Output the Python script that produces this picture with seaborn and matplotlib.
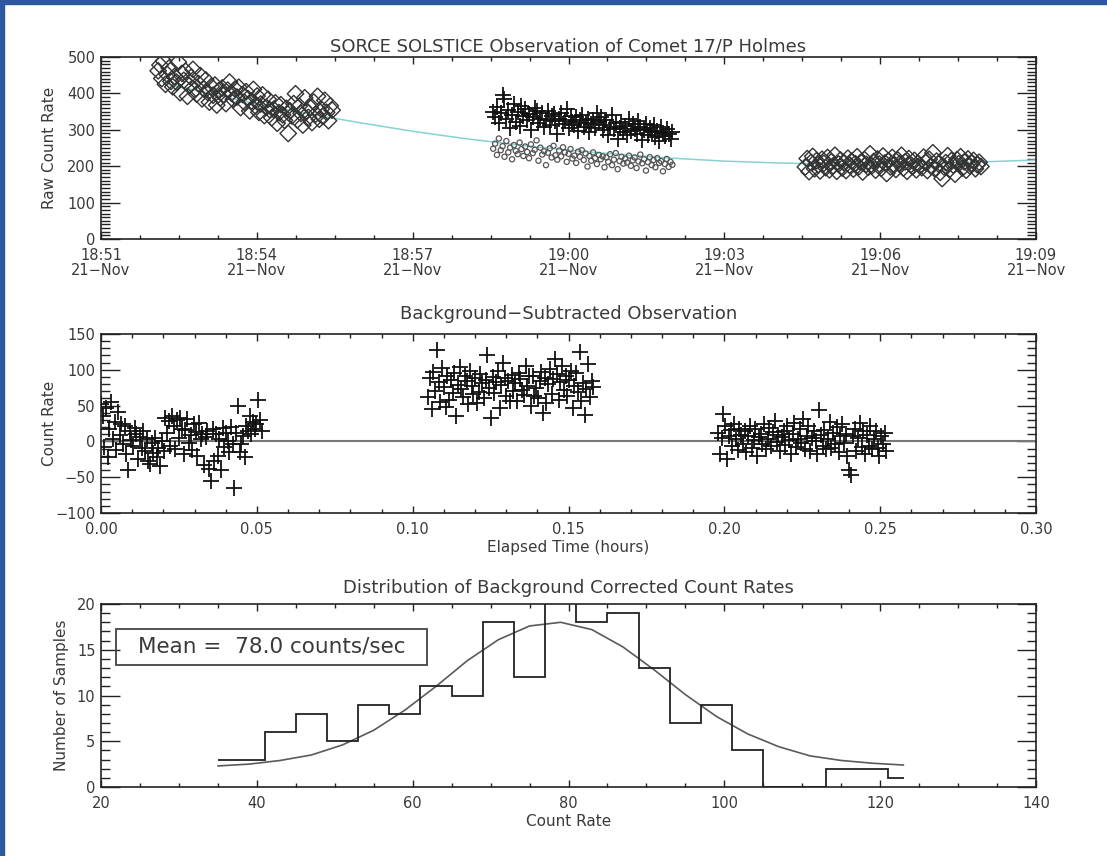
import numpy as np
import matplotlib
matplotlib.use("Agg")
import matplotlib.pyplot as plt
from matplotlib.ticker import MultipleLocator, FuncFormatter
from matplotlib.patches import Rectangle
import seaborn as sns

# ---------------- data ----------------
# Raw count rates (minutes after 18:51 UT, 21 Nov)
target1_span = (1.10, 4.45)
target1_rate = [462, 478, 441, 489, 425, 452, 470, 433, 418, 447, 431, 486, 402, 455, 436, 461,
                392, 421, 444, 466, 410, 398, 427, 449, 385, 412, 437, 403, 376, 419, 395, 423,
                368, 407, 388, 415, 396, 372, 409, 431, 401, 383, 412, 390, 417, 361, 397, 376,
                405, 386, 352, 379, 411, 366, 393, 348, 371, 396, 339, 362, 384, 355, 333, 356,
                374, 318, 347, 369, 341, 326, 359, 290, 352, 338, 372, 399, 327, 365, 345, 313,
                388, 352, 334, 361, 320, 376, 343, 392, 329, 357, 337, 381, 348, 325, 366, 354]

comet_span = (7.55, 11.00)
comet_rate = [348, 336, 362, 318, 347, 396, 385, 329, 355, 304, 341, 372, 322, 349, 311, 366,
              338, 357, 326, 344, 300, 335, 361, 352, 318, 331, 346, 309, 327, 352, 314, 337,
              343, 323, 289, 331, 345, 316, 328, 357, 306, 339, 321, 312, 334, 298, 326, 341,
              308, 319, 331, 293, 315, 327, 304, 345, 322, 336, 299, 314, 328, 287, 309, 342,
              301, 318, 276, 305, 321, 293, 311, 285, 330, 297, 316, 303, 289, 324, 308, 272,
              299, 317, 286, 305, 294, 312, 281, 298, 269, 307, 291, 283, 302, 288, 276, 295]
background_rate = [248, 262, 231, 276, 244, 255, 226, 269, 238, 251, 219, 258, 242, 233, 265, 247,
                   228, 254, 239, 222, 260, 236, 245, 271, 215, 251, 232, 241, 203, 237, 249, 224,
                   256, 230, 218, 243, 227, 252, 238, 212, 234, 247, 221, 229, 209, 240, 226, 244,
                   217, 235, 199, 228, 215, 238, 222, 206, 231, 219, 227, 197, 224, 212, 233, 203,
                   218, 236, 192, 214, 226, 207, 221, 210, 229, 201, 216, 224, 195, 213, 232, 208,
                   219, 188, 211, 225, 203, 217, 197, 222, 209, 214, 186, 206, 220, 198, 212, 204]

target3_span = (13.56, 16.94)
target3_rate = [198, 221, 185, 210, 227, 193, 215, 204, 187, 219, 208, 196, 224, 190, 212, 201,
                230, 186, 206, 217, 195, 209, 188, 222, 203, 214, 192, 207, 226, 199, 211, 184,
                218, 205, 197, 234, 201, 213, 189, 220, 206, 194, 228, 209, 180, 215, 198, 224,
                203, 191, 217, 207, 230, 195, 212, 186, 221, 204, 199, 216, 190, 208, 202, 196,
                225, 211, 188, 219, 200, 237, 193, 214, 206, 183, 166, 198, 210, 229, 191, 215,
                203, 178, 218, 207, 226, 195, 212, 189, 220, 201, 208, 216, 193, 204, 211, 199]

# Background trend fit
trend_minutes = [1.2, 2, 3, 4, 5, 6, 7, 8, 9, 10, 11, 12, 13, 14, 15, 16, 17, 18]
trend_rate = [428, 403, 371, 344, 319, 296, 276, 259, 244, 232, 222, 214, 209, 206, 206, 208, 212, 217]

# Background-subtracted rates (elapsed hours)
sub1_span = (0.000, 0.0515)
sub1_rate = [52, 36, -8, 47, -22, 18, 55, 4, 27, -12, 41, 9, 24, -3, 22,
             -18, -40, 14, 2, -7, 19, 11, -24, 6, -9, 15, -14, 3,
             -27, -31, -2, -16, 5, -22, -9, -35, 1, -13,
             33, 12, 29, -6, 35, 21, -10, 30, 5, 33, 18,
             -17, 16, 31, -2, 9, -12, 24, 13, -20, 26, 3,
             10, -33, 6, 14, -38, -55, 17, -28, 10, -21, 4, -40, 19, -8,
             12, 1, -15, 20, -4, -65, 12, 50, -15, -3, 8, -22,
             22, 14, 35, 11, 27, 18, 24, 58, 30, 15]
sub2_span = (0.105, 0.158)
sub2_rate = [62, 88, 45, 97, 71, 128, 83, 55, 102, 76, 48, 92,
             58, 86, 68, 95, 35, 79, 104, 73, 62, 91, 84, 52,
             99, 77, 66, 88, 54, 69, 94, 81, 60, 86, 120, 74,
             33, 90, 67, 83, 98, 46, 79, 110, 88, 63, 85, 57,
             93, 71, 82, 56, 96, 87, 72, 65, 105, 78, 91, 50,
             92, 64, 74, 61, 84, 97, 40, 89, 53, 80, 101, 66,
             87, 115, 94, 58, 83, 106, 72, 91, 64, 86, 99, 47,
             78, 95, 69, 125, 56, 81, 37, 73, 108, 62, 85, 76]
sub3_span = (0.198, 0.252)
sub3_rate = [12, -18, 5, 38, 21, -25, 8, 16, -6, 24, 3, -12,
             18, 9, -4, 14, -15, 7, 22, -9, 2, 17, -20, 6,
             11, -3, 25, -11, 4, 19, -7, 13, 28, -1, 9, -14,
             6, 15, -5, 21, 2, -17, 10, 26, -8, 3, 18, -2,
             31, -10, 8, 22, -13, 5, 14, 0, -18, 44, 9, -6,
             16, -11, 3, 27, -9, 12, -4, 20, -15, 7, 24, -2,
             11, -21, -40, -47, 8, 18, -13, 5, 26, -8, 14, -18,
             9, -6, 21, -11, 3, 15, -9, -20, 7, -4, 12, -14]

# Histogram of corrected comet rates
hist_edges = [35, 41, 45, 49, 53, 57, 61, 65, 69, 73, 77, 81, 85, 89, 93, 97, 101, 105, 109, 113, 117, 121, 123]
hist_counts = [3, 6, 8, 5, 9, 8, 11, 10, 18, 12, 21, 18, 19, 13, 7, 9, 4, 0, 0, 2, 2, 1]
gauss_x = [35, 39, 43, 47, 51, 55, 59, 63, 67, 71, 75, 79, 83, 87, 91, 95, 99, 103, 107, 111, 115, 119, 123]
gauss_y = [2.3, 2.5, 2.9, 3.5, 4.6, 6.2, 8.4, 11.0, 13.8, 16.1, 17.6, 18.0, 17.2, 15.3, 12.8, 10.1,
           7.7, 5.8, 4.4, 3.4, 2.9, 2.6, 2.4]
mean_rate = 78.0


def sample_times(span, values):
    return np.linspace(span[0], span[1], len(values))


# ---------------- style ----------------
sns.set_theme(style="white")
plt.rcParams["font.family"] = ["DejaVu Sans"]
plt.rcParams["axes.unicode_minus"] = True
TXT = "#3a3a3a"
INK = "#222222"

W, H = 1107, 856
fig = plt.figure(figsize=(W / 100, H / 100), dpi=100)
fig.patch.set_facecolor("white")

# window border
fig.patches.append(Rectangle((0, 1 - 4 / H), 1, 4 / H, transform=fig.transFigure,
                             color="#2d579e", zorder=10))
fig.patches.append(Rectangle((0, 0), 4 / W, 1, transform=fig.transFigure,
                             color="#2d579e", zorder=10))


def axes_px(l, t, r, b):
    return fig.add_axes([l / W, 1 - b / H, (r - l) / W, (b - t) / H])


def frame(ax, xlim, ylim, xmaj, xmin, ymaj, ymin):
    ax.set_xlim(*xlim)
    ax.set_ylim(*ylim)
    ax.xaxis.set_major_locator(MultipleLocator(xmaj))
    ax.xaxis.set_minor_locator(MultipleLocator(xmin))
    ax.yaxis.set_major_locator(MultipleLocator(ymaj))
    ax.yaxis.set_minor_locator(MultipleLocator(ymin))
    ax.tick_params(which="both", direction="in", top=True, right=True, bottom=True, left=True,
                   color=INK, labelcolor=TXT, labelsize=10.5, width=1)
    ax.tick_params(axis="y", which="major", length=13.5, pad=4)
    ax.tick_params(axis="y", which="minor", length=6.5)
    ax.tick_params(axis="x", which="major", length=5, pad=6.5)
    ax.tick_params(axis="x", which="minor", length=3)
    for s in ax.spines.values():
        s.set_color(INK)
        s.set_linewidth(1.2)
        s.set_visible(True)
    ax.grid(False)
    ax.set_facecolor("white")


# ---------------- top: raw count rate ----------------
ax1 = axes_px(101, 57, 1036, 239)
sns.lineplot(x=trend_minutes, y=trend_rate, color="#86d3d3", lw=1.1, ax=ax1,
             estimator=None, sort=False, zorder=1)
for span, vals in ((target1_span, target1_rate), (target3_span, target3_rate)):
    sns.scatterplot(x=sample_times(span, vals), y=vals, marker="D", s=70,
                    facecolor="none", edgecolor="#333333", linewidth=1.0, ax=ax1, zorder=3)
sns.scatterplot(x=sample_times(comet_span, comet_rate), y=comet_rate, marker="+", s=140,
                color="#111111", linewidth=1.3, ax=ax1, zorder=3)
sns.scatterplot(x=sample_times(comet_span, background_rate), y=background_rate, marker="o", s=14,
                facecolor="none", edgecolor="#555555", linewidth=0.9, ax=ax1, zorder=3)
frame(ax1, (0, 18), (0, 500), 3, 0.75, 100, 10)


def clock_label(v, pos):
    total = 51 + int(round(v))
    return f"{18 + total // 60}:{total % 60:02d}\n21\u2212Nov"


ax1.xaxis.set_major_formatter(FuncFormatter(clock_label))
for lab in ax1.get_xticklabels():
    lab.set_linespacing(1.0)
ax1.set_ylabel("Raw Count Rate", color=TXT, fontsize=11)
ax1.yaxis.set_label_coords(-0.047, 0.5)
ax1.set_xlabel("")
ax1.set_title("SORCE SOLSTICE Observation of Comet 17/P Holmes", color=TXT, fontsize=13, pad=4)

# ---------------- middle: background subtracted ----------------
ax2 = axes_px(101, 334, 1036, 513)
ax2.axhline(0, color="#777777", lw=1.5, zorder=1)
for span, vals in ((sub1_span, sub1_rate), (sub2_span, sub2_rate), (sub3_span, sub3_rate)):
    sns.scatterplot(x=sample_times(span, vals), y=vals, marker="+", s=140,
                    color="#111111", linewidth=1.3, ax=ax2, zorder=3)
frame(ax2, (0, 0.30), (-100, 150), 0.05, 0.01, 50, 10)
ax2.xaxis.set_major_formatter(FuncFormatter(lambda v, p: f"{v:.2f}"))
ax2.set_ylabel("Count Rate", color=TXT, fontsize=11)
ax2.yaxis.set_label_coords(-0.047, 0.5)
ax2.set_xlabel("Elapsed Time (hours)", color=TXT, fontsize=11, labelpad=2)
ax2.set_title("Background\u2212Subtracted Observation", color=TXT, fontsize=13, pad=10.5)

# ---------------- bottom: histogram ----------------
ax3 = axes_px(101, 604, 1036, 787)
ax3.stairs(hist_counts, hist_edges, baseline=None, color=INK, lw=1.3, zorder=3)
sns.lineplot(x=gauss_x, y=gauss_y, color="#5a5a5a", lw=1.2, ax=ax3,
             estimator=None, sort=False, zorder=2)
frame(ax3, (20, 140), (0, 20), 20, 5, 5, 1)
ax3.set_ylabel("Number of Samples", color=TXT, fontsize=11)
ax3.yaxis.set_label_coords(-0.034, 0.5)
ax3.set_xlabel("Count Rate", color=TXT, fontsize=11, labelpad=2)
ax3.set_title("Distribution of Background Corrected Count Rates", color=TXT, fontsize=13, pad=8)
ax3.add_patch(Rectangle((15 / 935, 122 / 183), 311 / 935, 36 / 183, transform=ax3.transAxes,
                        fill=False, edgecolor="#444444", lw=1.3, zorder=4))
ax3.text(37 / 935, 140 / 183, f"Mean =  {mean_rate:.1f} counts/sec", transform=ax3.transAxes,
         ha="left", va="center", fontsize=15.5, color=TXT, zorder=5)

fig.savefig("out.png", dpi=100, facecolor="white")
